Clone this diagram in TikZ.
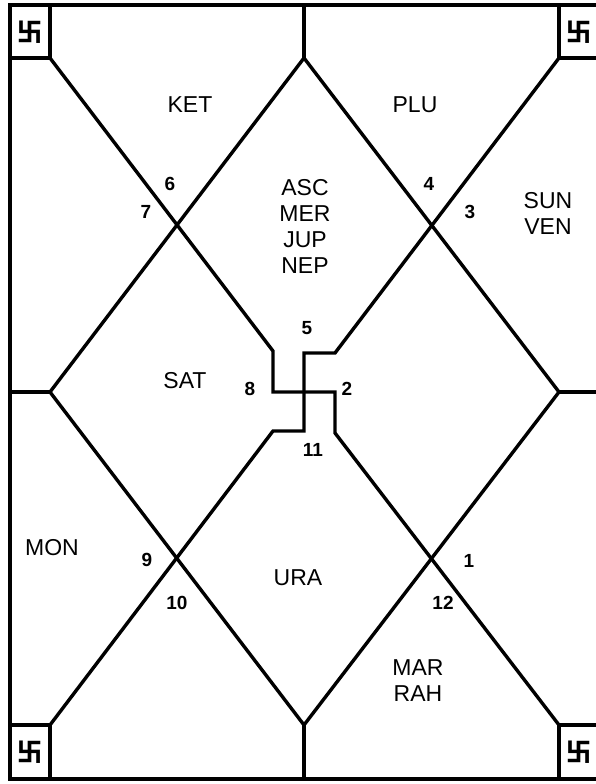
\documentclass[tikz,border=0pt]{standalone}
\usepackage{fontspec}
\setmainfont{Liberation Sans}
\newfontfamily\cjk{Noto Sans CJK SC}
\usepackage{tikz}

\begin{document}
\begin{tikzpicture}[x=1pt,y=-1pt,line width=3.4pt,
    house/.style={font=\fontsize{19}{19}\selectfont\bfseries},
    planet/.style={font=\fontsize{23}{26}\selectfont,align=center},
    luck/.style={font=\cjk\bfseries\fontsize{25}{25}\selectfont}]
      \useasboundingbox (0,0) rectangle (595,784);
      \coordinate (TL) at (10,5);
      \coordinate (BR) at (599,779);
      \coordinate (A) at (50,58);
      \coordinate (B) at (559,58);
      \coordinate (C) at (50,725);
      \coordinate (D) at (559,725);
      \coordinate (N) at (304,58);
      \coordinate (E) at (559,392);
      \coordinate (S) at (304,725);
      \coordinate (W) at (50,392);
      \draw (TL) rectangle (BR);
      \draw (TL) rectangle (A);
      \draw (B) -- (559,5);
      \draw (B) -- (599,58);
      \draw (C) -- (10,725);
      \draw (C) -- (50,779);
      \draw (D) -- (599,725);
      \draw (D) -- (559,779);
      \draw (N) -- (E) -- (S) -- (W) -- cycle;
      \draw (N) -- (304,5);
      \draw (S) -- (304,779);
      \draw (W) -- (10,392);
      \draw (E) -- (599,392);
      \draw (A) -- ++(223,293) -- ++(0,41) -- ++(62,0) -- ++(0,41) -- (D);
      \draw (B) -- ++(-224,295) -- ++(-31,0) -- ++(0,78) -- ++(-31,0) -- (C);
      \foreach \c/\x/\y in {a/30/32,b/579/32,c/30/752,d/579/752}
        \node[luck] (luck-\c) at (\x,\y) {卐};
      \foreach \n/\x/\y in {1/469/561,2/347/389,3/470/212,4/429/184,5/307/328,6/170/184,
                            7/146/212,8/250/389,9/147/560,10/177/603,11/313/450,12/443/603}
        \node[house] (h\n) at (\x,\y) {\n};
      \node[planet] (ket) at (190,105) {KET};
      \node[planet] (plu) at (415,105) {PLU};
      \node[planet] (asc) at (305,226) {ASC\\MER\\JUP\\NEP};
      \node[planet] (sun) at (548,213) {SUN\\VEN};
      \node[planet] (sat) at (185,381) {SAT};
      \node[planet] (mon) at (52,548) {MON};
      \node[planet] (ura) at (298,578) {URA};
      \node[planet] (mar) at (418,681) {MAR\\RAH};
    \end{tikzpicture}
\end{document}
